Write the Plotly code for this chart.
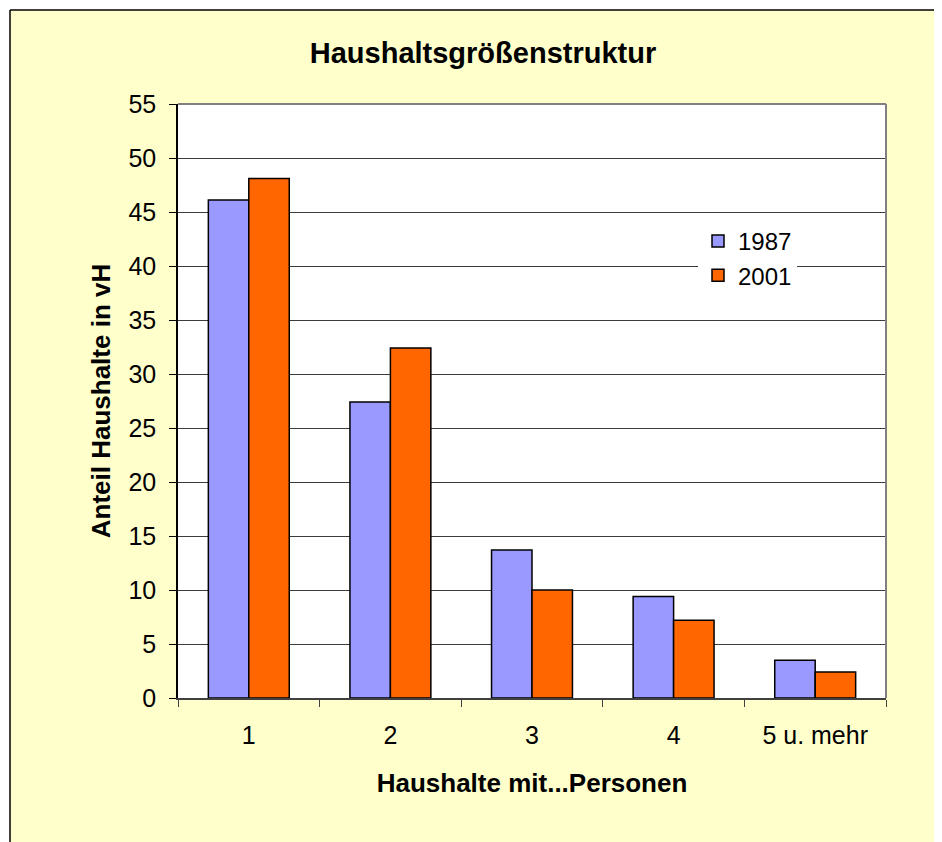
import plotly.graph_objects as go

categories = ["1", "2", "3", "4", "5 u. mehr"]
werte_1987 = [46.1, 27.4, 13.7, 9.4, 3.5]
werte_2001 = [48.1, 32.4, 10.0, 7.2, 2.4]

# the page body adds an 8px margin, so the figure is laid out in page coords minus 8
# and made a bit larger than the window so the yellow reaches the edges
OFF = 8
W, H = 950, 850
L, T = 178 - OFF, 104 - OFF
pw, ph = 708, 594
R, B = W - L - pw, H - T - ph


def px(x):
    return (x - OFF - L) / pw


def py(y):
    return (T + ph - (y - OFF)) / ph


font = "Liberation Sans, Arial, sans-serif"

fig = go.Figure()
fig.add_trace(go.Bar(x=categories, y=werte_1987, name="1987",
                     marker=dict(color="#9999FF", line=dict(color="black", width=1.5))))
fig.add_trace(go.Bar(x=categories, y=werte_2001, name="2001",
                     marker=dict(color="#FF6600", line=dict(color="black", width=1.5))))

fig.update_layout(
    width=W, height=H,
    margin=dict(l=L, r=R, t=T, b=B, pad=0),
    paper_bgcolor="#FFFFCC",
    plot_bgcolor="white",
    font=dict(family=font, size=25, color="black"),
    barmode="group",
    bargap=0.4286,
    bargroupgap=0,
    title=dict(text="<b>Haushaltsgrößenstruktur</b>", xref="paper", x=px(483),
               xanchor="center", y=1 - (53 - OFF) / H, yanchor="middle", font=dict(size=29)),
    legend=dict(x=px(698), y=py(219), xanchor="left", yanchor="top",
                bgcolor="white", borderwidth=0, font=dict(size=24),
                itemwidth=30),
    xaxis=dict(
        title=dict(text="<b>Haushalte mit...Personen</b>", font=dict(size=26), standoff=26),
        showline=True, linecolor="#404040", linewidth=1.5,
        ticks="outside", tickson="boundaries", ticklen=7, tickcolor="#404040",
        tickfont=dict(size=25), ticklabelstandoff=14,
        showgrid=False,
    ),
    yaxis=dict(
        title=dict(text="<b>Anteil Haushalte in vH</b>", font=dict(size=26), standoff=10),
        range=[0, 55], dtick=5, autorange=False,
        showline=True, linecolor="black", linewidth=1.5,
        ticks="outside", ticklen=7, tickcolor="black",
        tickfont=dict(size=25), ticklabelstandoff=8,
        showgrid=True, gridcolor="#3c3c3c", gridwidth=1,
        zeroline=False,
    ),
    shapes=[
        # plot border (top and right in grey)
        dict(type="line", xref="paper", yref="paper", x0=0, x1=1, y0=1, y1=1,
             line=dict(color="#808080", width=2)),
        dict(type="line", xref="paper", yref="paper", x0=1, x1=1, y0=0, y1=1,
             line=dict(color="#808080", width=2)),
        # white strips outside the chart frame
        dict(type="rect", xref="paper", yref="paper", x0=px(-20), x1=px(10), y0=py(900), y1=py(-20),
             fillcolor="white", line=dict(width=0), layer="below"),
        dict(type="rect", xref="paper", yref="paper", x0=px(-20), x1=px(1000), y0=py(10), y1=py(-20),
             fillcolor="white", line=dict(width=0), layer="below"),
        # black frame
        dict(type="line", xref="paper", yref="paper", x0=px(10), x1=px(1000), y0=py(10), y1=py(10),
             line=dict(color="black", width=1.5)),
        dict(type="line", xref="paper", yref="paper", x0=px(10), x1=px(10), y0=py(10), y1=py(900),
             line=dict(color="black", width=1.5)),
    ],
)

fig.write_html("out.html")
